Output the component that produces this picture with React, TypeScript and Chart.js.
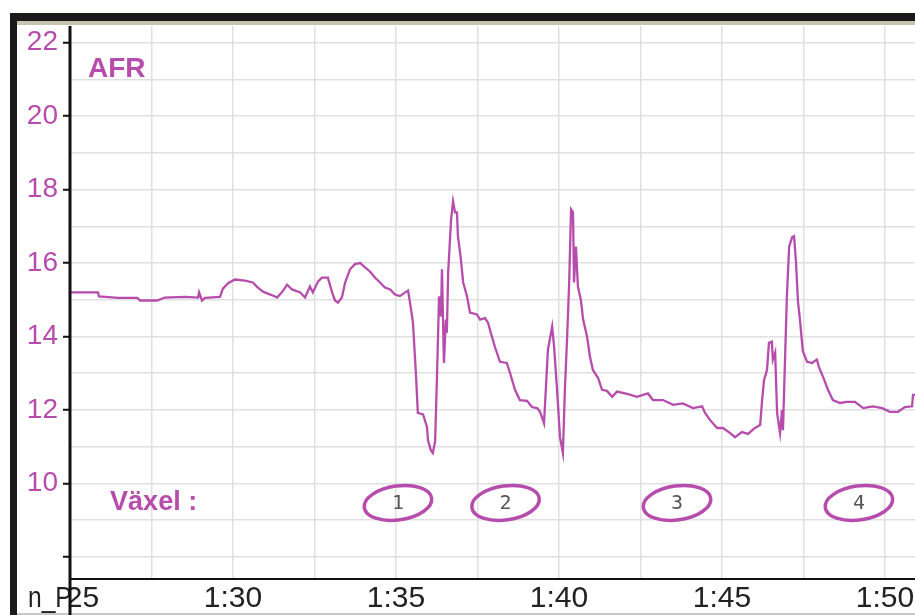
import React, { useEffect, useRef } from "react";
import { Chart, registerables } from "chart.js";

Chart.register(...registerables);

// time in seconds (1:25 = 85 s)
const times = [
  85.0, 85.86, 85.89, 86.47, 87.06, 87.15, 87.67, 87.91, 88.53, 88.93, 88.96, 89.05, 89.14, 89.6, 89.69, 89.85,
  90.06, 90.37, 90.61, 90.74, 90.83, 90.92, 91.29, 91.35, 91.5, 91.66, 91.81, 92.06, 92.21, 92.36, 92.45, 92.61,
  92.73, 92.91, 93.04, 93.13, 93.22, 93.34, 93.44, 93.59, 93.74, 93.9, 94.05, 94.2, 94.36, 94.51, 94.66, 94.82,
  94.97, 95.12, 95.28, 95.37, 95.43, 95.52, 95.61, 95.67, 95.83, 95.95, 95.98, 96.07, 96.13, 96.2, 96.26, 96.32,
  96.38, 96.41, 96.47, 96.53, 96.56, 96.6, 96.69, 96.75, 96.81, 96.87, 96.9, 96.99, 97.06, 97.18, 97.27, 97.48,
  97.58, 97.73, 97.82, 97.94, 98.04, 98.19, 98.4, 98.5, 98.65, 98.8, 99.02, 99.17, 99.33, 99.42, 99.54, 99.6,
  99.66, 99.79, 99.85, 99.94, 100.03, 100.12, 100.18, 100.25, 100.31, 100.37, 100.43, 100.46, 100.52, 100.58,
  100.67, 100.74, 100.86, 100.95, 101.04, 101.2, 101.32, 101.47, 101.63, 101.78, 102.09, 102.39, 102.73, 102.88,
  103.19, 103.5, 103.8, 104.11, 104.39, 104.48, 104.63, 104.85, 105.03, 105.25, 105.4, 105.61, 105.8, 106.01,
  106.17, 106.23, 106.29, 106.38, 106.44, 106.53, 106.56, 106.63, 106.69, 106.78, 106.84, 106.87, 106.93, 106.99,
  107.06, 107.15, 107.21, 107.27, 107.33, 107.39, 107.48, 107.61, 107.76, 107.91, 107.98, 108.1, 108.25, 108.4,
  108.62, 108.83, 109.08, 109.33, 109.63, 109.91, 110.15, 110.4, 110.61, 110.83, 110.86, 110.95,
];

const afr = [
  15.2, 15.2, 15.09, 15.05, 15.05, 14.98, 14.98, 15.06, 15.08, 15.06, 15.2, 14.98, 15.05, 15.08, 15.3, 15.45,
  15.55, 15.52, 15.47, 15.35, 15.28, 15.22, 15.09, 15.06, 15.2, 15.41, 15.28, 15.2, 15.06, 15.36, 15.2, 15.5,
  15.6, 15.6, 15.2, 14.98, 14.92, 15.06, 15.47, 15.83, 15.97, 16.0, 15.88, 15.77, 15.6, 15.47, 15.33, 15.28,
  15.14, 15.1, 15.2, 15.25, 14.92, 14.38, 13.0, 11.92, 11.88, 11.54, 11.18, 10.9, 10.83, 11.15, 13.0, 15.09,
  14.55, 15.83, 13.28, 14.46, 14.1, 15.74, 17.19, 17.68, 17.38, 17.38, 16.73, 16.1, 15.47, 15.09, 14.65, 14.6,
  14.46, 14.5, 14.38, 14.0, 13.7, 13.31, 13.28, 13.0, 12.55, 12.27, 12.25, 12.08, 12.05, 11.95, 11.64, 12.63,
  13.64, 14.27, 13.72, 12.55, 11.26, 10.83, 12.55, 14.0, 15.41, 17.46, 17.38, 15.47, 16.45, 15.36,
  15.0, 14.46, 14.0, 13.45, 13.09, 12.87, 12.55, 12.52, 12.36, 12.5, 12.44, 12.36, 12.45, 12.27,
  12.27, 12.14, 12.18, 12.05, 12.1, 11.92, 11.73, 11.51, 11.51, 11.37, 11.26, 11.4, 11.35, 11.51,
  11.59, 12.27, 12.82, 13.09, 13.83, 13.86, 13.37, 13.56, 11.92, 11.37, 12.0, 11.45, 13.28, 15.09,
  16.45, 16.7, 16.73, 16.02, 14.95, 14.46, 13.6, 13.31, 13.28, 13.37, 13.15, 12.9, 12.55, 12.27,
  12.19, 12.22, 12.22, 12.05, 12.1, 12.05, 11.95, 11.95, 12.08, 12.1, 12.41, 12.41,
];

// gear annotations ("Växel")
const gearLabels = ["1", "2", "3", "4"];
const gearTimes = [95.06, 98.36, 103.62, 109.2];
const gearLevel = 9.47;

const X_MIN = 85;
const X_MAX = 110.92;
const Y_MIN = 7.4;
const Y_MAX = 22.45;

const MAGENTA = "#b64cab";
const FONT = "'Liberation Sans', Arial, sans-serif";

function fmtTime(v: number): string {
  const m = Math.floor(v / 60);
  const s = Math.round(v - m * 60);
  return `${m}:${String(s).padStart(2, "0")}`;
}

const decorPlugin = {
  id: "decor",
  beforeDraw(chart: any) {
    const { ctx, width, height } = chart;
    ctx.save();
    ctx.fillStyle = "#ffffff";
    ctx.fillRect(0, 0, width, height);
    ctx.restore();
  },
  afterDraw(chart: any) {
    const { ctx, chartArea, scales, width, height } = chart;
    const xs = scales.x;
    const ys = scales.y;
    ctx.save();
    // frame bars
    ctx.fillStyle = "#1c1a18";
    ctx.fillRect(10, 13, width - 10, 8);
    ctx.fillRect(10, 13, 7, height - 13);
    ctx.fillStyle = "#c9c4b0";
    ctx.fillRect(17, 21, width - 17, 4);
    // bottom faint line
    ctx.fillStyle = "#c8c8c8";
    ctx.fillRect(17, height - 2, width - 17, 2);

    // "n_P" overlay on first x label
    ctx.fillStyle = "#ffffff";
    ctx.fillRect(24, chartArea.bottom + 3, chartArea.left - 24, 30);
    ctx.fillStyle = "#222";
    ctx.font = `30px ${FONT}`;
    ctx.textBaseline = "alphabetic";
    ctx.textAlign = "left";
    ctx.save();
    ctx.translate(28, chartArea.bottom + 28);
    ctx.scale(0.82, 1);
    ctx.fillText("n_P", 0, 0);
    ctx.restore();

    // axes lines
    ctx.strokeStyle = "#111";
    ctx.lineWidth = 3;
    ctx.beginPath();
    ctx.moveTo(chartArea.left, chartArea.top);
    ctx.lineTo(chartArea.left, height);
    ctx.stroke();
    ctx.lineWidth = 2;
    ctx.beginPath();
    ctx.moveTo(chartArea.left, chartArea.bottom);
    ctx.lineTo(chartArea.right, chartArea.bottom);
    ctx.stroke();

    // AFR label
    ctx.fillStyle = MAGENTA;
    ctx.font = `bold 28px ${FONT}`;
    ctx.textAlign = "left";
    ctx.textBaseline = "alphabetic";
    ctx.fillText("AFR", xs.getPixelForValue(85.55), ys.getPixelForValue(21.07));

    // Växel label
    ctx.font = `bold 27px ${FONT}`;
    ctx.textBaseline = "middle";
    ctx.fillText("Växel :", xs.getPixelForValue(86.23), ys.getPixelForValue(gearLevel));

    // gear ellipses
    gearTimes.forEach((t, i) => {
      const cx = xs.getPixelForValue(t);
      const cy = ys.getPixelForValue(gearLevel);
      ctx.strokeStyle = MAGENTA;
      ctx.lineWidth = 3.5;
      ctx.beginPath();
      ctx.ellipse(cx, cy, 34, 17, -0.14, 0, Math.PI * 2);
      ctx.stroke();
      ctx.fillStyle = "#555";
      ctx.font = `20px 'DejaVu Sans Mono', monospace`;
      ctx.textAlign = "center";
      ctx.textBaseline = "middle";
      ctx.fillText(gearLabels[i], cx, cy + 1);
    });
    ctx.restore();
  },
};

export default function App() {
  const ref = useRef<HTMLCanvasElement | null>(null);
  useEffect(() => {
    if (!ref.current) return;
    const chart = new Chart(ref.current, {
      type: "line",
      data: {
        datasets: [
          {
            data: times.map((t, i) => ({ x: t, y: afr[i] })),
            borderColor: MAGENTA,
            borderWidth: 2.3,
            pointRadius: 0,
            tension: 0,
            fill: false,
          },
        ],
      },
      options: {
        animation: false,
        responsive: false,
        layout: { padding: { top: 26, left: 0, right: 0, bottom: 0 } },
        plugins: { legend: { display: false }, tooltip: { enabled: false }, title: { display: false } },
        scales: {
          x: {
            type: "linear",
            min: X_MIN,
            max: X_MAX,
            afterFit(scale: any) {
              scale.height = 36;
              scale.paddingLeft = 0;
              scale.paddingRight = 0;
            },
            ticks: {
              stepSize: 2.5,
              autoSkip: false,
              maxRotation: 0,
              includeBounds: false,
              padding: 2,
              color: "#222",
              font: { family: FONT, size: 30 },
              callback: (v: any) => {
                const n = Number(v);
                return Math.abs(n / 5 - Math.round(n / 5)) < 1e-6 ? fmtTime(n) : "";
              },
            },
            grid: { color: "#e0e0e0", lineWidth: 1.5, drawTicks: false },
            border: { display: false },
          },
          y: {
            type: "linear",
            min: Y_MIN,
            max: Y_MAX,
            afterFit(scale: any) {
              scale.width = 70;
            },
            ticks: {
              stepSize: 1,
              includeBounds: false,
              autoSkip: false,
              padding: 5,
              color: MAGENTA,
              font: { family: FONT, size: 28 },
              callback: (v: any) => {
                const n = Number(v);
                return n % 2 === 0 && n >= 10 ? String(n) : "";
              },
            },
            grid: {
              color: "#e0e0e0",
              lineWidth: 1.5,
              tickLength: 7,
              tickWidth: 2,
              tickColor: (c: any) => (c.tick && c.tick.value % 2 === 0 ? "#111" : "rgba(0,0,0,0)"),
            },
            border: { display: false },
          },
        },
      },
      plugins: [decorPlugin],
    });
    return () => chart.destroy();
  }, []);
  return (
    <div style={{ position: "fixed", left: 0, top: 0, width: 915, height: 615, background: "#fff" }}>
      <canvas ref={ref} width={915} height={615} style={{ display: "block" }} />
    </div>
  );
}
